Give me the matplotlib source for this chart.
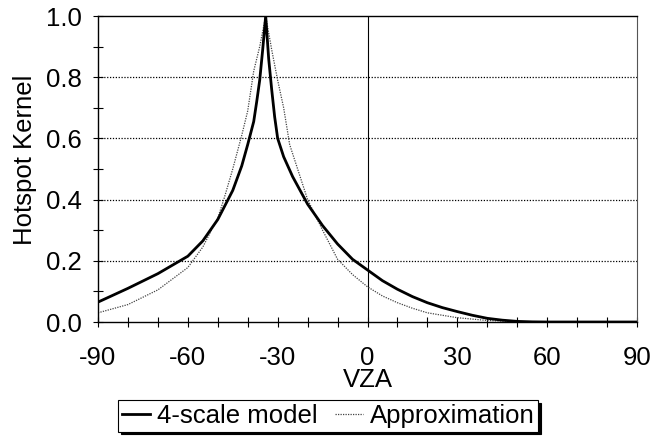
import matplotlib
matplotlib.use("Agg")
import matplotlib.pyplot as plt
from matplotlib.ticker import MultipleLocator

plt.rcParams['font.family'] = ['Liberation Sans', 'DejaVu Sans']
plt.rcParams['axes.unicode_minus'] = False

# 4-scale model curve
vza_model = [-90, -80, -70, -60, -55, -50, -45, -42, -40, -38, -37, -36, -35, -34,
             -33, -32, -31, -30, -28, -25, -20, -15, -10, -5, 0, 5, 10, 15, 20, 25,
             30, 35, 40, 45, 50, 55, 60, 70, 80, 90]
kernel_model = [0.065, 0.11, 0.158, 0.215, 0.265, 0.335, 0.43, 0.51, 0.58, 0.655, 0.72,
                0.79, 0.89, 1.0, 0.86, 0.76, 0.67, 0.60, 0.54, 0.475, 0.385, 0.315, 0.255,
                0.205, 0.17, 0.135, 0.107, 0.083, 0.063, 0.047, 0.034, 0.022, 0.012, 0.006,
                0.002, 0.0005, 0.0, 0.0, 0.0, 0.0]

# Approximation curve
vza_approx = [-90, -80, -70, -60, -55, -50, -48, -45, -42, -40, -38, -36, -34, -32, -30,
              -28, -26, -23, -20, -15, -10, -5, 0, 5, 10, 15, 20, 30, 40, 50, 60, 70, 80, 90]
kernel_approx = [0.03, 0.057, 0.105, 0.178, 0.245, 0.34, 0.40, 0.50, 0.61, 0.69, 0.82, 0.90,
                 1.0, 0.89, 0.79, 0.70, 0.58, 0.49, 0.40, 0.30, 0.205, 0.155, 0.115, 0.085,
                 0.063, 0.045, 0.03, 0.014, 0.005, 0.001, 0.0, 0.0, 0.0, 0.0]

labels = ["4-scale model", "Approximation"]
x_ticks = [-90, -60, -30, 0, 30, 60, 90]
y_ticks = [0.0, 0.2, 0.4, 0.6, 0.8, 1.0]

W, H = 659, 437
fig = plt.figure(figsize=(W / 100, H / 100), dpi=100)
L, R, T, B = 98, 637, 16, 322
ax = fig.add_axes([L / W, 1 - B / H, (R - L) / W, (B - T) / H])

FS = 18.5

for y in y_ticks[1:-1]:
    ax.axhline(y, color='black', lw=0.9, linestyle=(0, (1, 1.3)), zorder=1)
ax.axvline(0, color='black', lw=0.8, zorder=1)

l1, = ax.plot(vza_model, kernel_model, color='black', lw=2.0, zorder=3)
l2, = ax.plot(vza_approx, kernel_approx, color='#444444', lw=0.9,
              linestyle=(0, (1, 1)), zorder=2)

ax.set_xlim(-90, 90)
ax.set_ylim(0, 1.0)
ax.set_xticks(x_ticks)
ax.set_yticks(y_ticks)
ax.set_yticklabels([f"{v:.1f}" for v in y_ticks])
ax.xaxis.set_minor_locator(MultipleLocator(10))
ax.yaxis.set_minor_locator(MultipleLocator(0.1))
ax.tick_params(axis='both', which='both', direction='inout', length=7, width=0.8,
               labelsize=FS, color='black')
ax.tick_params(axis='x', which='major', pad=14)
ax.tick_params(axis='y', which='major', pad=8)
ax.tick_params(top=False, right=False)

for s in ['left', 'bottom', 'top']:
    ax.spines[s].set_color('black')
    ax.spines[s].set_linewidth(1.0)
ax.spines['right'].set_color('#555555')
ax.spines['right'].set_linewidth(0.8)

ax.set_ylabel("Hotspot Kernel", fontsize=FS)
ax.yaxis.set_label_coords(-0.113, 0.53)
ax.set_xlabel("VZA", fontsize=FS)
ax.xaxis.set_label_coords(0.5, -0.15)

leg = fig.legend([l1, l2], labels, loc='upper left',
                 bbox_to_anchor=(118 / W, 1 - 400 / H), ncol=2, fontsize=FS,
                 frameon=True, fancybox=False, edgecolor='black',
                 handlelength=1.1, handletextpad=0.25, columnspacing=0.7,
                 borderpad=0.15, borderaxespad=0.0,
                 shadow={'color': 'black', 'alpha': 1.0})
leg.get_frame().set_linewidth(0.8)

fig.savefig("out.png", dpi=100)
